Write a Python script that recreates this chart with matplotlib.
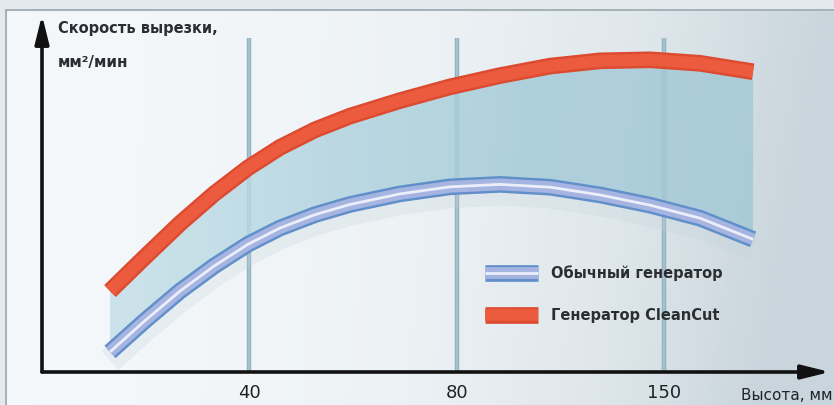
import numpy as np
import matplotlib
matplotlib.use("Agg")
import matplotlib.pyplot as plt
import matplotlib.patheffects as pe
from matplotlib.lines import Line2D
from matplotlib.colors import LinearSegmentedColormap

# height categories on the x axis (equally spaced, not to scale)
tick_labels = ["40", "80", "150"]
tick_pos = [1, 2, 3]

# cutting speed curves, read at positions along the height axis
pos = [0.328, 0.497, 0.666, 0.830, 0.994, 1.148, 1.317, 1.486, 1.727,
       1.968, 2.209, 2.451, 2.692, 2.933, 3.174, 3.430]
cleancut = [23.0, 32.7, 42.2, 50.6, 58.0, 63.8, 68.8, 72.7, 77.1,
            81.0, 84.2, 86.9, 88.4, 88.7, 87.7, 85.3]
regular = [5.7, 14.6, 23.0, 30.1, 36.3, 40.9, 44.7, 47.6, 50.6,
           52.6, 53.3, 52.5, 50.3, 47.4, 43.7, 37.7]

series_names = ["Обычный генератор", "Генератор CleanCut"]

W, H = 834, 405
fig = plt.figure(figsize=(W / 100, H / 100), dpi=100)

# background panel with a soft left-to-right gradient
bg = fig.add_axes([0, 0, 1, 1])
bg.set_xlim(0, W)
bg.set_ylim(H, 0)
bg.axis("off")
cmap = LinearSegmentedColormap.from_list(
    "panel", ["#f5f8fa", "#edf2f5", "#dfe7eb", "#c9d5dc"])
gx = np.linspace(0, 1, 256)[None, :] ** 1.6
gy = np.linspace(0.0, 0.15, 64)[:, None]
bg.imshow(np.clip(gx + gy * gx, 0, 1), cmap=cmap, extent=[6, W, H, 10],
          aspect="auto", zorder=0)
bg.fill_between([0, W], 0, 10, color="#e4e9ed", zorder=1)
bg.fill_between([0, 6], 0, H, color="#e4e9ed", zorder=1)
bg.plot([6, W], [10, 10], color="#9aa7b0", lw=1.2, zorder=2)
bg.plot([6, 6], [10, H], color="#9aa7b0", lw=1.2, zorder=2)

# plotting area: origin of both axes at pixel (42, 372)
ax = fig.add_axes([42 / W, (H - 372) / H, (W - 42) / W, (372 - 15) / H])
xmax = (W - 42) / 207.3
ymax = (372 - 15) / 3.52
ax.set_xlim(0, xmax)
ax.set_ylim(0, ymax)
ax.patch.set_alpha(0)
for s in ax.spines.values():
    s.set_visible(False)
ax.set_xticks([])
ax.set_yticks([])

# vertical guide lines at each height category
top = (372 - 38) / 3.52
for p in tick_pos:
    ax.plot([p, p], [0, top], color="#92b2c1", lw=3.2,
            solid_capstyle="butt", zorder=1)
    ax.plot([p, p], [0, top], color="#aac5d1", lw=1.2,
            solid_capstyle="butt", zorder=1)

# shaded gap between the two generators, lighter towards the left
gap = ax.fill_between(pos, regular, cleancut, color="none", lw=0, zorder=2)
gap_cmap = LinearSegmentedColormap.from_list(
    "gap", ["#c6e0e9", "#b3d5e0", "#a5cbd8", "#a3c9d6"])
img = ax.imshow(np.linspace(0, 1, 256)[None, :], cmap=gap_cmap, alpha=0.85,
                extent=[pos[0], pos[-1], 0, ymax], aspect="auto", zorder=2)
img.set_clip_path(gap.get_paths()[0], transform=ax.transData)
ax.set_xlim(0, xmax)
ax.set_ylim(0, ymax)

# soft shadow under the regular curve
ax.plot(pos, np.array(regular) - 2.5, color="#c3d3da", lw=18, alpha=0.25,
        solid_capstyle="butt", solid_joinstyle="round", zorder=2)

blue_fx = [pe.Stroke(linewidth=12, foreground="#608fca"),
           pe.Stroke(linewidth=8.5, foreground="#a6b4e1"),
           pe.Normal()]
red_fx = [pe.Stroke(linewidth=12, foreground="#dc4a30"), pe.Normal()]

ax.plot(pos, regular, color="#eceefa", lw=2.0, solid_capstyle="butt",
        solid_joinstyle="round", path_effects=blue_fx, zorder=4)
ax.plot(pos, cleancut, color="#ec5b3e", lw=8.5, solid_capstyle="butt",
        solid_joinstyle="round", path_effects=red_fx, zorder=4)

# axis arrows
arrow = dict(arrowstyle="-|>,head_length=1.7,head_width=0.42",
             color="#111111", lw=2.6, shrinkA=0, shrinkB=0)
ax.annotate("", xy=(0, ymax), xytext=(0, 0),
            arrowprops=arrow, annotation_clip=False, zorder=6)
ax.annotate("", xy=((830 - 42) / 207.3, 0), xytext=(0, 0),
            arrowprops=arrow, annotation_clip=False, zorder=6)

font = "DejaVu Sans"
ink = "#1f2328"
for p, lab in zip(tick_pos, tick_labels):
    fig.text((42 + p * 207.3) / W, 1 - 393 / H, lab, ha="center",
             va="center", fontsize=13, color=ink, family=font)
fig.text(741 / W, 1 - 395 / H, "Высота, мм", ha="left", va="center",
         fontsize=11, color=ink, family=font)

fig.text(58 / W, 1 - 29 / H, "Скорость вырезки,", ha="left", va="center",
         fontsize=10.5, fontweight="bold", color="#2a2e33", family=font)
fig.text(58 / W, 1 - 63 / H, "мм²/мин", ha="left", va="center",
         fontsize=11, fontweight="bold", color="#2a2e33", family=font)

handles = [
    Line2D([], [], color="#eceefa", lw=2.0, solid_capstyle="butt",
           path_effects=blue_fx),
    Line2D([], [], color="#ec5b3e", lw=8.5, solid_capstyle="butt",
           path_effects=red_fx),
]
leg = fig.legend(handles, series_names, loc="upper left",
                 bbox_to_anchor=(485 / W, 1 - 265 / H), frameon=False,
                 handlelength=3.6, handletextpad=0.9, labelspacing=1.85,
                 borderpad=0, borderaxespad=0,
                 prop=dict(family=font, weight="bold", size=10.5))
for t in leg.get_texts():
    t.set_color("#2a2e33")

fig.savefig("out.png", dpi=100)
